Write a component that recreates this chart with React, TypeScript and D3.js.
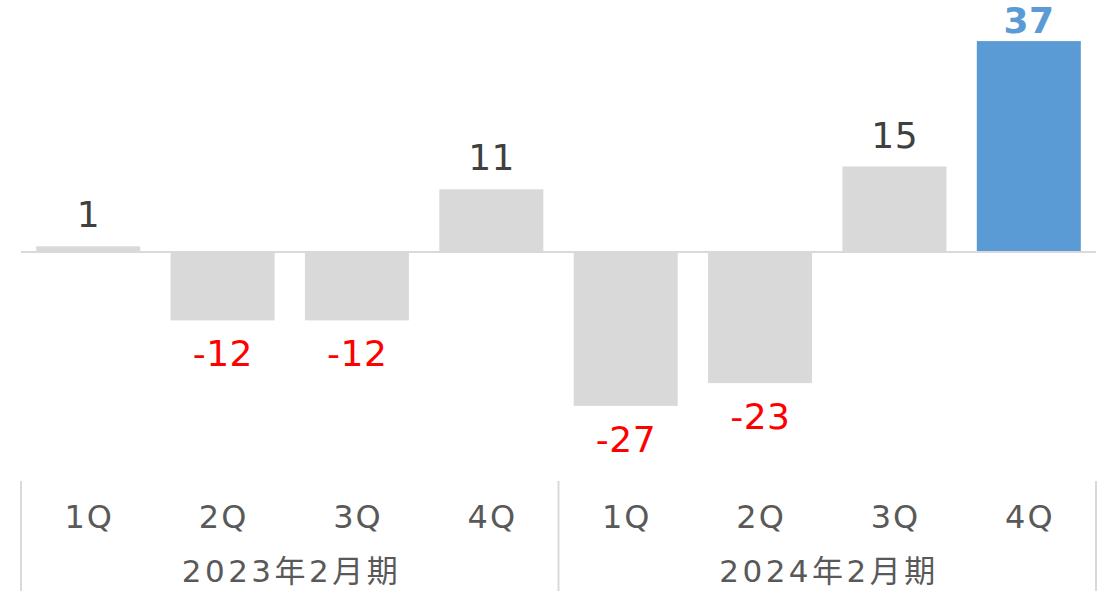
import React from "react";
import * as d3 from "d3";

const quarters = ["1Q", "2Q", "3Q", "4Q", "1Q", "2Q", "3Q", "4Q"];
const values = [1, -12, -12, 11, -27, -23, 15, 37];
const years = ["2023年2月期", "2024年2月期"];
const highlightIndex = 7;

const W = 1101;
const H = 591;
const FONT = "'DejaVu Sans', 'Noto Sans CJK JP', sans-serif";

export default function App() {
  const x = d3
    .scaleBand<number>()
    .domain(d3.range(values.length))
    .range([21, 1096])
    .paddingInner(0.226)
    .paddingOuter(0.113);
  const y = d3.scaleLinear().domain([-30, 40]).range([423, 24]);
  const y0 = y(0);
  const groupScale = d3.scaleBand<number>().domain([0, 1]).range([21, 1096]);

  const valLS = 0.5;
  const catLS = 2;
  const yearLS = 3.5;

  return (
    <svg
      width={W}
      height={H}
      style={{ position: "absolute", left: 0, top: 0, background: "#fff" }}
      fontFamily={FONT}
    >
      {values.map((v, i) => {
        const top = Math.min(y(v), y0);
        const h = Math.abs(y(v) - y0);
        return (
          <rect
            key={"b" + i}
            x={x(i)}
            y={top}
            width={x.bandwidth()}
            height={h}
            fill={i === highlightIndex ? "#5B9BD5" : "#D9D9D9"}
          />
        );
      })}
      <line x1={21} x2={1096} y1={y0} y2={y0} stroke="#D9D9D9" strokeWidth={2} />
      {values.map((v, i) => {
        const cx = (x(i) as number) + x.bandwidth() / 2 + valLS / 2;
        const ty = v >= 0 ? Math.max(y(v) - 19, 33) : y(v) + 46;
        const fill = i === highlightIndex ? "#5B9BD5" : v < 0 ? "#FF0000" : "#404040";
        return (
          <text
            key={"l" + i}
            x={cx}
            y={ty}
            textAnchor="middle"
            fontSize={36}
            letterSpacing={valLS}
            fill={fill}
            fontWeight={i === highlightIndex ? 600 : 400}
          >
            {v}
          </text>
        );
      })}
      {quarters.map((q, i) => (
        <text
          key={"q" + i}
          x={(x(i) as number) + x.bandwidth() / 2 + catLS / 2}
          y={528}
          textAnchor="middle"
          fontSize={32}
          letterSpacing={catLS}
          fill="#595959"
        >
          {q}
        </text>
      ))}
      {years.map((yr, i) => (
        <text
          key={"y" + i}
          x={(groupScale(i) as number) + groupScale.bandwidth() / 2 + yearLS / 2}
          y={582}
          textAnchor="middle"
          fontSize={31}
          letterSpacing={yearLS}
          fill="#595959"
        >
          {yr}
        </text>
      ))}
      {[0, 1, 2].map((k) => {
        const sx = k < 2 ? (groupScale(k) as number) : 1096;
        return (
          <line
            key={"s" + k}
            x1={sx}
            x2={sx}
            y1={481}
            y2={591}
            stroke="#D9D9D9"
            strokeWidth={2}
          />
        );
      })}
    </svg>
  );
}
